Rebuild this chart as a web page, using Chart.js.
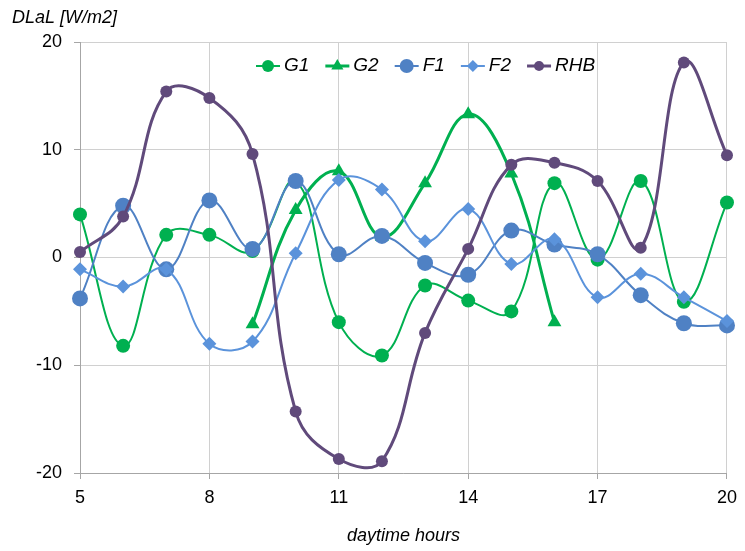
<!DOCTYPE html>
<html>
<head>
<meta charset="utf-8">
<script src="https://cdn.jsdelivr.net/npm/chart.js@4.4.1/dist/chart.umd.min.js"></script>
<style>
  html, body { margin: 0; padding: 0; background: #fff; }
  #wrap { width: 745px; height: 551px; position: relative; }
</style>
</head>
<body>
<div id="wrap"><canvas id="chart" width="745" height="551"></canvas></div>
<script>
// daytime hours on the x axis
const hours = [5, 6, 7, 8, 9, 10, 11, 12, 13, 14, 15, 16, 17, 18, 19, 20];

// DLaL values (null = no point)
const g1 = [4.0, -8.2, 2.1, 2.1, 0.6, 7.1, -6.0, -9.1, -2.6, -4.0, -5.0, 6.9, -0.2, 7.1, -4.1, 5.1];
const g2 = [null, null, null, null, -6.2, 4.4, 8.0, 1.9, 6.9, 13.3, 7.8, -6.0, null, null, null, null];
const f1 = [-3.8, 4.8, -1.1, 5.3, 0.8, 7.1, 0.3, 2.0, -0.5, -1.6, 2.5, 1.2, 0.3, -3.5, -6.1, -6.3];
const f2 = [-1.1, -2.7, -1.1, -8.0, -7.8, 0.4, 7.2, 6.3, 1.5, 4.5, -0.6, 1.7, -3.7, -1.5, -3.7, -5.9];
const rhb = [0.5, 3.8, 15.4, 14.8, 9.6, -14.3, -18.7, -18.9, -7.0, 0.8, 8.6, 8.8, 7.1, 0.9, 18.1, 9.5];

const xTicks = [5, 8, 11, 14, 17, 20];
const yTicks = [-20, -10, 0, 10, 20];

const GREEN = '#00b050';
const BLUE1 = '#4f81c4';
const BLUE2 = '#5b93db';
const PURPLE = '#604a7b';
const FONT = '"Liberation Sans", Arial, sans-serif';

function toPoints(values) {
    const pts = [];
    values.forEach((v, i) => {
        if (v !== null) pts.push({ x: hours[i], y: v });
    });
    return pts;
}

function series(label, values, color, style, radius, width, order) {
    return {
        label: label,
        data: toPoints(values),
        borderColor: color,
        backgroundColor: color,
        borderWidth: width,
        pointStyle: style,
        pointRadius: radius,
        pointBorderWidth: 0,
        pointBackgroundColor: color,
        tension: 0.4,
        clip: false,
        order: order
    };
}

// legend drawn inside the plot, line + marker like the original
const insideLegend = {
    id: 'insideLegend',
    afterDraw(chart) {
        const ctx = chart.ctx;
        let x = 256;
        const y = 66;
        ctx.save();
        ctx.font = 'italic 19px ' + FONT;
        ctx.textBaseline = 'middle';
        chart.data.datasets.forEach(ds => {
            ctx.strokeStyle = ds.borderColor;
            ctx.fillStyle = ds.borderColor;
            ctx.lineWidth = ds.borderWidth;
            ctx.beginPath();
            ctx.moveTo(x, y);
            ctx.lineTo(x + 24, y);
            ctx.stroke();
            const mx = x + 12, r = ds.pointRadius - 1;
            ctx.beginPath();
            if (ds.pointStyle === 'triangle') {
                ctx.moveTo(mx, y - r);
                ctx.lineTo(mx + r * 0.87, y + r * 0.5);
                ctx.lineTo(mx - r * 0.87, y + r * 0.5);
                ctx.closePath();
            } else if (ds.pointStyle === 'rectRot') {
                ctx.moveTo(mx, y - r);
                ctx.lineTo(mx + r, y);
                ctx.lineTo(mx, y + r);
                ctx.lineTo(mx - r, y);
                ctx.closePath();
            } else {
                ctx.arc(mx, y, r, 0, Math.PI * 2);
            }
            ctx.fill();
            ctx.fillStyle = '#000';
            ctx.fillText(ds.label, x + 28, y);
            x += 28 + ctx.measureText(ds.label).width + 16;
        });
        ctx.restore();
    }
};

// y axis title sits horizontally above the axis
const yTitle = {
    id: 'yTitle',
    afterDraw(chart) {
        const ctx = chart.ctx;
        ctx.save();
        ctx.font = 'italic 18px ' + FONT;
        ctx.fillStyle = '#000';
        ctx.textBaseline = 'middle';
        ctx.fillText('DLaL [W/m2]', 12, 18);
        ctx.restore();
    }
};

const chart = new Chart(document.getElementById('chart'), {
    type: 'line',
    data: {
        datasets: [
            series('G1', g1, GREEN, 'circle', 7, 2, 4),
            series('G2', g2, GREEN, 'triangle', 8, 3, 3),
            series('F1', f1, BLUE1, 'circle', 8, 2, 2),
            series('F2', f2, BLUE2, 'rectRot', 7, 2, 1),
            series('RHB', rhb, PURPLE, 'circle', 6, 3, 0)
        ]
    },
    options: {
        responsive: false,
        animation: false,
        events: [],
        layout: { padding: { left: 0, right: 16, top: 42, bottom: 0 } },
        plugins: {
            legend: { display: false },
            tooltip: { enabled: false }
        },
        scales: {
            x: {
                type: 'linear',
                min: 5,
                max: 20,
                afterBuildTicks: axis => { axis.ticks = xTicks.map(v => ({ value: v })); },
                afterFit: axis => { axis.height = 78; },
                grid: { color: '#d0d0d0', tickColor: '#a6a6a6', tickLength: 6 },
                border: { color: '#a6a6a6', width: 1 },
                ticks: { color: '#000', font: { size: 18, family: FONT }, padding: 8, maxRotation: 0 },
                title: {
                    display: true,
                    text: 'daytime hours',
                    color: '#000',
                    font: { size: 18, style: 'italic', family: FONT },
                    padding: { top: 0, bottom: 4 }
                }
            },
            y: {
                min: -20,
                max: 20,
                afterBuildTicks: axis => { axis.ticks = yTicks.map(v => ({ value: v })); },
                afterFit: axis => { axis.width = 80; },
                grid: { color: '#d0d0d0', tickColor: '#a6a6a6', tickLength: 6 },
                border: { color: '#a6a6a6', width: 1 },
                ticks: { color: '#000', font: { size: 18, family: FONT }, padding: 12 }
            }
        }
    },
    plugins: [insideLegend, yTitle]
});
</script>
</body>
</html>
